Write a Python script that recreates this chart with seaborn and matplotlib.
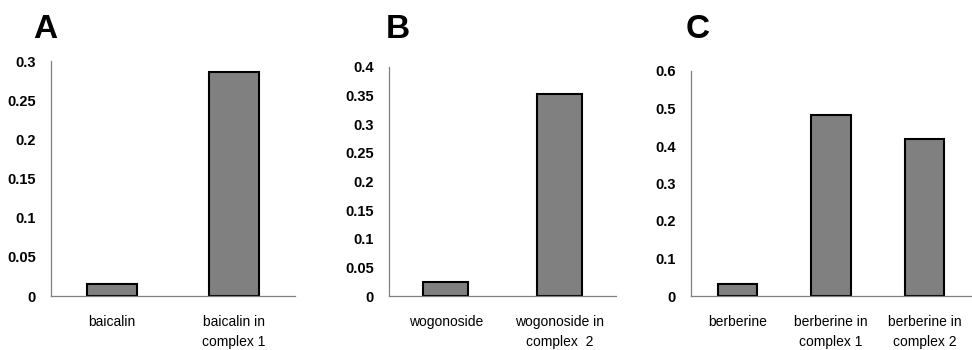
import matplotlib
matplotlib.use('Agg')
import matplotlib.pyplot as plt
import numpy as np
import seaborn as sns
from pandas import DataFrame

# values
a_labels = ['baicalin', 'baicalin in\ncomplex 1']
a_values = [0.015, 0.286]

b_labels = ['wogonoside', 'wogonoside in\ncomplex  2']
b_values = [0.024, 0.352]

c_labels = ['berberine', 'berberine in\ncomplex 1', 'berberine in\ncomplex 2']
c_values = [0.031, 0.483, 0.418]

a_ticks = [0, 0.05, 0.1, 0.15, 0.2, 0.25, 0.3]
b_ticks = [0, 0.05, 0.1, 0.15, 0.2, 0.25, 0.3, 0.35, 0.4]
c_ticks = [0, 0.1, 0.2, 0.3, 0.4, 0.5, 0.6]

sns.set_style('white')
plt.rcParams['font.family'] = ['Liberation Sans', 'DejaVu Sans']
plt.rcParams['text.color'] = 'black'
plt.rcParams['xtick.labelcolor'] = 'black'
plt.rcParams['ytick.labelcolor'] = 'black'

W, H = 972, 350
fig = plt.figure(figsize=(W / 100, H / 100), dpi=100)


def px_axes(left, top, right, bottom):
    # axes placed by pixel box of the reference
    return fig.add_axes([left / W, 1 - bottom / H, (right - left) / W, (bottom - top) / H])


def panel(ax, labels, values, ticks, bar_width):
    df = DataFrame({'name': labels, 'value': values})
    sns.barplot(data=df, x='name', y='value', color='#808080', saturation=1,
                edgecolor='black', linewidth=1.5, width=bar_width, ax=ax)
    n = len(labels)
    ax.set_xlim(-0.5, n - 0.5)
    ax.set_ylim(0, ticks[-1])
    ax.set_yticks(ticks)
    ax.set_yticklabels(['%g' % t for t in ticks], fontweight='bold', fontsize=10.5)
    ax.set_xticks(np.arange(-0.5, n), minor=True)
    ax.tick_params(axis='x', which='major', length=0, pad=14, labelsize=10)
    ax.tick_params(axis='x', which='minor', length=4, width=0.8, color='#808080', direction='out')
    ax.tick_params(axis='y', length=3, width=0.8, color='#808080', direction='out', pad=8)
    for lbl in ax.get_xticklabels():
        lbl.set_linespacing(1.55)
        lbl.set_verticalalignment('top')
    for s in ['top', 'right']:
        ax.spines[s].set_visible(False)
    for s in ['left', 'bottom']:
        ax.spines[s].set_color('#808080')
        ax.spines[s].set_linewidth(0.9)
    ax.set(xlabel='', ylabel='')


ax_a = px_axes(51, 61, 295, 296)
ax_b = px_axes(389, 67, 616, 296)
ax_c = px_axes(691, 71, 971, 296)

panel(ax_a, a_labels, a_values, a_ticks, 0.41)
panel(ax_b, b_labels, b_values, b_ticks, 0.40)
panel(ax_c, c_labels, c_values, c_ticks, 0.42)

for letter, x in [('A', 33), ('B', 386), ('C', 686)]:
    fig.text(x / W, 1 - 38 / H, letter, fontsize=24, fontweight='bold', va='baseline', ha='left')

fig.savefig('out.png', dpi=100)
